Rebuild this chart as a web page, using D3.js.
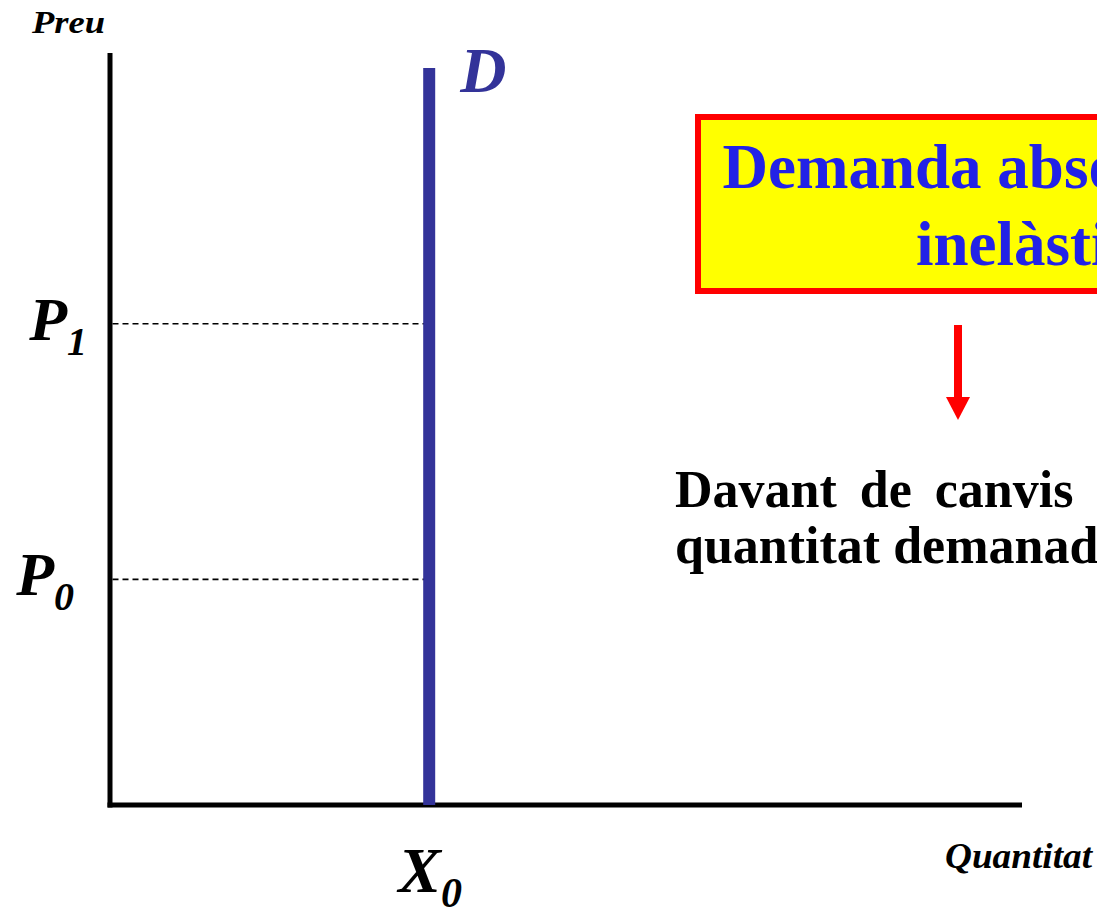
<!DOCTYPE html>
<html>
<head>
<meta charset="utf-8">
<script src="https://cdn.jsdelivr.net/npm/d3@7"></script>
<style>
  body { margin: 0; background: #fff; }
  svg text { font-family: "Liberation Serif", "Times New Roman", serif; font-weight: bold; }
</style>
</head>
<body>
<div id="chart"></div>
<script>
// price levels (y, 0-100) and the quantity of the vertical demand curve (x, 0-100)
const priceNames = ["P", "P"];
const priceSubs = ["1", "0"];
const priceValues = [64, 30];
const quantityNames = ["X"];
const quantitySubs = ["0"];
const quantityValues = [35];
const demandTop = 98;
const axisLabels = ["Preu", "Quantitat"];
const boxLines = ["Demanda absolutament", "inelàstica"];
const noteLines = ["Davant de canvis en el preu, la", "quantitat demanada no varia"];

const W = 1097, H = 907;
const svg = d3.select("#chart").append("svg")
    .attr("width", W)
    .attr("height", H);

const x = d3.scaleLinear().domain([0, 100]).range([110, 1022]);
const y = d3.scaleLinear().domain([0, 100]).range([805, 53]);

// axes
svg.append("line")
   .attr("x1", x(0)).attr("x2", x(0))
   .attr("y1", y(100)).attr("y2", y(0) + 2.5)
   .attr("stroke", "#000").attr("stroke-width", 5);
svg.append("line")
   .attr("x1", x(0) - 2.5).attr("x2", x(100))
   .attr("y1", y(0)).attr("y2", y(0))
   .attr("stroke", "#000").attr("stroke-width", 5);

svg.append("text")
   .attr("x", 32).attr("y", 33)
   .attr("textLength", 73).attr("lengthAdjust", "spacingAndGlyphs")
   .style("font-style", "italic").style("font-size", "31px")
   .text(axisLabels[0]);
svg.append("text")
   .attr("x", 945).attr("y", 868)
   .attr("textLength", 147).attr("lengthAdjust", "spacingAndGlyphs")
   .style("font-style", "italic").style("font-size", "35px")
   .text(axisLabels[1]);

// dashed price guides
svg.selectAll(".guide")
   .data(priceValues)
   .enter()
   .append("line")
   .attr("class", "guide")
   .attr("x1", x(0) + 2.5)
   .attr("x2", x(quantityValues[0]))
   .attr("y1", d => y(d))
   .attr("y2", d => y(d))
   .attr("stroke", "#000")
   .attr("stroke-width", 1.6)
   .attr("stroke-dasharray", "6,4");

// price labels with subscripts
const pl = svg.selectAll(".plabel")
   .data(priceValues)
   .enter()
   .append("text")
   .attr("class", "plabel")
   .attr("text-anchor", "end")
   .attr("x", (d, i) => i === 0 ? 87 : 74)
   .attr("y", d => y(d) + 16)
   .style("font-style", "italic");
pl.append("tspan").style("font-size", "62px").text((d, i) => priceNames[i]);
pl.append("tspan").attr("dy", 15).style("font-size", "40px").text((d, i) => priceSubs[i]);

// demand curve
svg.selectAll(".demand")
   .data(quantityValues)
   .enter()
   .append("line")
   .attr("class", "demand")
   .attr("x1", d => x(d)).attr("x2", d => x(d))
   .attr("y1", y(demandTop)).attr("y2", y(0))
   .attr("stroke", "#333399").attr("stroke-width", 12);

svg.append("text")
   .attr("x", x(quantityValues[0]) + 31).attr("y", y(demandTop) + 24)
   .style("font-style", "italic").style("font-size", "64px")
   .attr("fill", "#333399")
   .text("D");

const ql = svg.selectAll(".qlabel")
   .data(quantityValues)
   .enter()
   .append("text")
   .attr("class", "qlabel")
   .attr("x", d => x(d) - 31)
   .attr("y", 892)
   .style("font-style", "italic");
ql.append("tspan").style("font-size", "64px").text((d, i) => quantityNames[i]);
ql.append("tspan").attr("dy", 15).style("font-size", "42px").text((d, i) => quantitySubs[i]);

// yellow box
svg.append("rect")
   .attr("x", 698).attr("y", 117)
   .attr("width", 700).attr("height", 174)
   .attr("fill", "#ffff00")
   .attr("stroke", "#ff0000").attr("stroke-width", 6);

svg.selectAll(".boxline")
   .data(boxLines)
   .enter()
   .append("text")
   .attr("class", "boxline")
   .attr("x", 1042)
   .attr("y", (d, i) => 188 + i * 77)
   .attr("text-anchor", "middle")
   .attr("fill", "#2222e6")
   .style("font-size", "63px")
   .text(d => d);

// red arrow
svg.append("line")
   .attr("x1", 958).attr("x2", 958)
   .attr("y1", 325).attr("y2", 398)
   .attr("stroke", "#ff0000").attr("stroke-width", 8);
svg.append("path")
   .attr("d", d3.line()([[946, 397], [970, 397], [958, 420]]))
   .attr("fill", "#ff0000");

svg.selectAll(".note")
   .data(noteLines)
   .enter()
   .append("text")
   .attr("class", "note")
   .attr("x", 675)
   .attr("y", (d, i) => 507 + i * 56)
   .attr("fill", "#000")
   .style("font-size", "52px")
   .style("word-spacing", (d, i) => i === 0 ? "10px" : "0px")
   .text(d => d);
</script>
</body>
</html>
